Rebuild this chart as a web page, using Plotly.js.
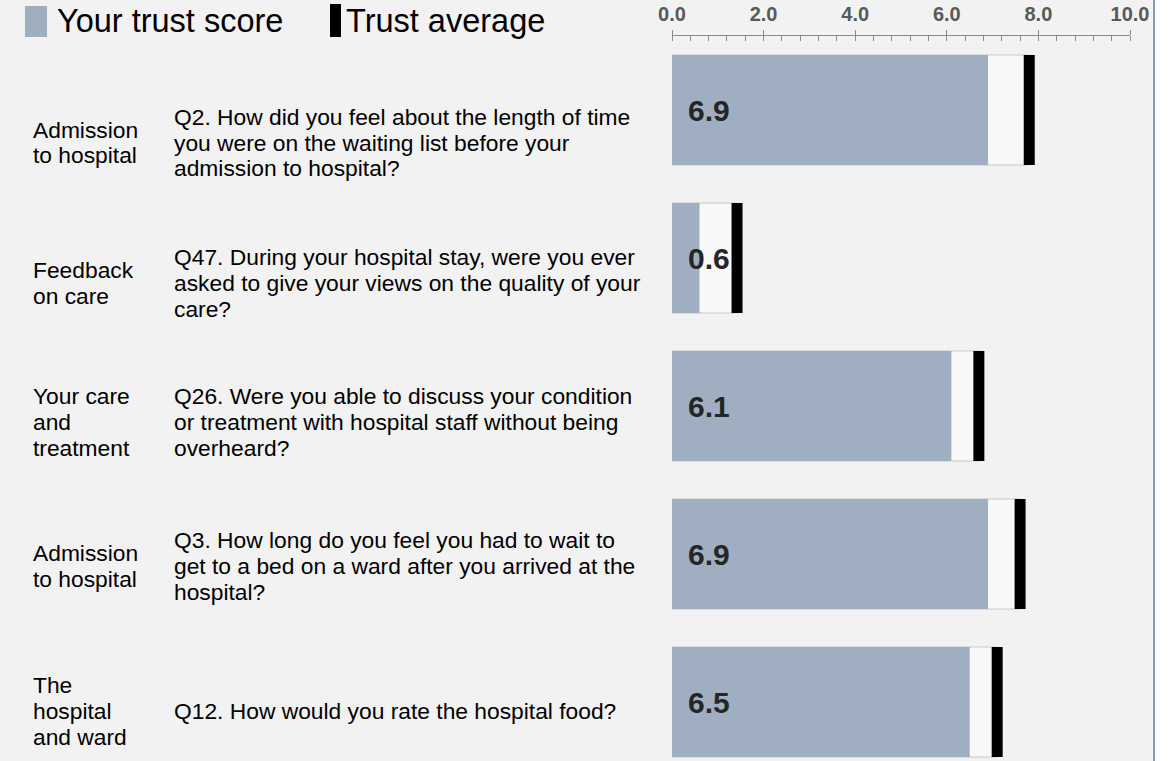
<!DOCTYPE html>
<html>
<head>
<meta charset="utf-8">
<script src="https://cdn.plot.ly/plotly-3.0.1.min.js"></script>
<style>html,body{margin:0;padding:0;background:#f2f2f2;}#chart{width:1170px;height:761px;}</style>
</head>
<body>
<div id="chart"></div>
<script>
// ---- data ----
const questionIds = ['Q2', 'Q47', 'Q26', 'Q3', 'Q12'];
const sectionLines = [
  ['Admission', 'to hospital'],
  ['Feedback', 'on care'],
  ['Your care', 'and', 'treatment'],
  ['Admission', 'to hospital'],
  ['The', 'hospital', 'and ward']
];
const questionLines = [
  ['Q2. How did you feel about the length of time', 'you were on the waiting list before your', 'admission to hospital?'],
  ['Q47. During your hospital stay, were you ever', 'asked to give your views on the quality of your', 'care?'],
  ['Q26. Were you able to discuss your condition', 'or treatment with hospital staff without being', 'overheard?'],
  ['Q3. How long do you feel you had to wait to', 'get to a bed on a ward after you arrived at the', 'hospital?'],
  ['Q12. How would you rate the hospital food?']
];
const trustScore = [6.9, 0.6, 6.1, 6.9, 6.5];
const trustAverage = [7.8, 1.42, 6.7, 7.6, 7.1];
const scoreLabels = ['6.9', '0.6', '6.1', '6.9', '6.5'];
const tickValues = [0, 2, 4, 6, 8, 10];
const tickLabels = ['0.0', '2.0', '4.0', '6.0', '8.0', '10.0'];
const legendLabels = ['Your trust score', 'Trust average'];

// ---- layout helpers (pixel -> paper) ----
const W = 1170, H = 761, MT = 36;
const PH = H - MT;
const px = x => x / W;
const py = y => (H - y) / PH;

const FONT = 'Liberation Sans, Arial, sans-serif';
const GREY = '#a0aec1';
const markHalf = 0.12;
const BARW = 110 / 148;

const traces = [
  {
    type: 'bar', orientation: 'h', y: questionIds, x: trustAverage, base: 0,
    width: BARW, marker: {color: '#f8f8f8', line: {color: '#c8c8c8', width: 1}},
    hoverinfo: 'skip', showlegend: false
  },
  {
    type: 'bar', orientation: 'h', y: questionIds, x: trustScore, base: 0,
    width: BARW, marker: {color: GREY, line: {width: 0}},
    name: legendLabels[0], showlegend: false
  },
  {
    type: 'bar', orientation: 'h', y: questionIds,
    x: trustAverage.map(() => 2 * markHalf),
    base: trustAverage.map(v => v - markHalf),
    width: BARW, marker: {color: '#000000', line: {width: 0}},
    name: legendLabels[1], showlegend: false
  }
];

const annotations = [];
// score labels
questionIds.forEach((q, i) => {
  annotations.push({
    xref: 'x', yref: 'y', x: 0, y: q, xanchor: 'left', yanchor: 'middle',
    xshift: 14, text: '<b>' + scoreLabels[i] + '</b>', showarrow: false,
    font: {family: FONT, size: 30, color: '#262626'}
  });
});
// left text columns
const rowCenters = [142.5, 283, 422, 566, 711];
const LINE = 25.6;
sectionLines.forEach((lines, r) => {
  lines.forEach((t, k) => {
    annotations.push({
      xref: 'paper', yref: 'paper', x: px(31), y: py(rowCenters[r] + (k - (lines.length - 1) / 2) * LINE),
      xanchor: 'left', yanchor: 'middle', text: t, showarrow: false,
      font: {family: FONT, size: 22.8, color: '#000000'}
    });
  });
  const ql = questionLines[r];
  ql.forEach((t, k) => {
    annotations.push({
      xref: 'paper', yref: 'paper', x: px(172), y: py(rowCenters[r] + (k - (ql.length - 1) / 2) * LINE),
      xanchor: 'left', yanchor: 'middle', text: t, showarrow: false,
      font: {family: FONT, size: 22.8, color: '#000000'}
    });
  });
});
// legend text
annotations.push({xref: 'paper', yref: 'paper', x: px(55), y: py(21), xanchor: 'left', yanchor: 'middle',
  text: legendLabels[0], showarrow: false, font: {family: FONT, size: 32.5, color: '#000000'}});
annotations.push({xref: 'paper', yref: 'paper', x: px(344), y: py(21), xanchor: 'left', yanchor: 'middle',
  text: legendLabels[1], showarrow: false, font: {family: FONT, size: 32.5, color: '#000000'}});

const shapes = [
  {type: 'rect', xref: 'paper', yref: 'paper', x0: px(25), x1: px(47), y0: py(37), y1: py(6),
   fillcolor: GREY, line: {width: 0}},
  {type: 'rect', xref: 'paper', yref: 'paper', x0: px(330), x1: px(341), y0: py(37), y1: py(4),
   fillcolor: '#000000', line: {width: 0}},
  {type: 'rect', xref: 'paper', yref: 'paper', x0: px(1155), x1: px(1170), y0: py(H), y1: py(0),
   fillcolor: '#ffffff', line: {width: 0}},
  {type: 'line', xref: 'paper', yref: 'paper', x0: px(1154), x1: px(1154), y0: py(H), y1: py(0),
   line: {color: '#8a9bb4', width: 2}}
];

const xdom = [px(672), px(1130)];
const layout = {
  width: W, height: H,
  margin: {l: 0, r: 0, t: MT, b: 0, pad: 0},
  paper_bgcolor: '#f2f2f2', plot_bgcolor: '#f2f2f2',
  barmode: 'overlay', showlegend: false,
  xaxis: {
    domain: xdom, range: [0, 10], side: 'top', fixedrange: true,
    showgrid: false, zeroline: false, showline: true, linecolor: '#8c8c8c', linewidth: 1,
    tickvals: tickValues, ticktext: tickLabels, ticks: 'outside', ticklen: 5, tickcolor: '#8c8c8c', tickwidth: 1,
    ticklabelstandoff: 1,
    tickfont: {family: FONT, size: 20, color: '#595959', weight: 'bold'},
    minor: {ticks: 'inside', dtick: 0.4, tick0: 0, ticklen: 5, tickcolor: '#8c8c8c', tickwidth: 1, showgrid: false}
  },
  xaxis2: {
    domain: xdom, range: [0, 10], side: 'top', overlaying: 'x', anchor: 'y', fixedrange: true,
    showgrid: false, zeroline: false, showline: false, showticklabels: false,
    tickvals: tickValues, ticks: 'inside', ticklen: 5, tickcolor: '#8c8c8c', tickwidth: 1
  },
  yaxis: {
    type: 'category', categoryarray: questionIds, categoryorder: 'array',
    range: [-74 / 148 + (H - MT) / 148, -74 / 148], fixedrange: true,
    showgrid: false, zeroline: false, showline: false, showticklabels: false, ticks: ''
  },
  annotations: annotations, shapes: shapes
};

// invisible trace to activate xaxis2
traces.push({type: 'scatter', x: [0], y: [questionIds[0]], xaxis: 'x2', yaxis: 'y', mode: 'markers',
  marker: {opacity: 0}, hoverinfo: 'skip', showlegend: false});

Plotly.newPlot('chart', traces, layout, {displayModeBar: false, staticPlot: true});
</script>
</body>
</html>
